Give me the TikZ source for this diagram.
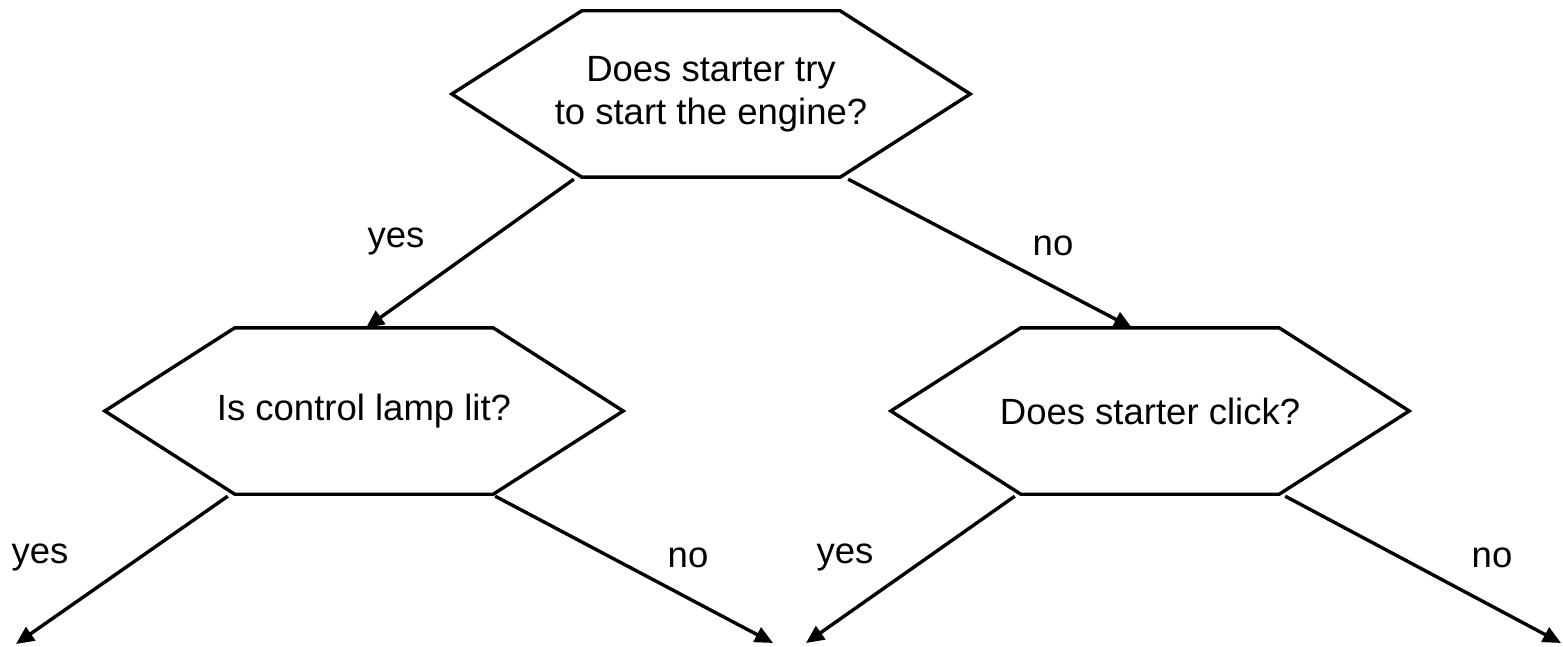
\documentclass[tikz,border=0pt]{standalone}
\usepackage{fontspec}
\setmainfont{Liberation Sans}
\usetikzlibrary{arrows.meta,calc}
\tikzset{
  hexnode/.style={draw=none, minimum width=518pt, minimum height=166pt, inner sep=0pt, align=center, font=\fontsize{36.5}{43.5}\selectfont},
  hexline/.style={draw=black, line width=3.4pt, line join=miter},
  conn/.style={draw=black, line width=3.4pt, -{Triangle[length=18pt,width=16pt]}},
  lbl/.style={inner sep=0pt, font=\fontsize{36.5}{43.5}\selectfont}
}
\begin{document}
\begin{tikzpicture}[x=1pt,y=-1pt]
\useasboundingbox[fill=white] (0,0) rectangle (1563,647);
\node[hexnode] (A) at (711,94) {Does starter try\\to start the engine?};
\node[hexnode] (B) at (364,411) {Is control lamp lit?};
\node[hexnode] (C) at (1150,411) {Does starter click?};
\foreach \n in {A,B,C}{
  \draw[hexline] (\n.west) -- ($(\n.north west)+(130,0)$) -- ($(\n.north east)+(-130,0)$) -- (\n.east) -- ($(\n.south east)+(-130,0)$) -- ($(\n.south west)+(130,0)$) -- cycle;
}
\coordinate (o1) at (16,644);
\coordinate (o2) at (773,643);
\coordinate (o3) at (806,643);
\coordinate (o4) at (1561,643);
\draw[conn] ($(A.south west)+(122,2)$) -- ($(B.north)+(2,0)$);
\draw[conn] ($(A.south east)+(-122,2)$) -- ($(C.north)+(-18,0)$);
\draw[conn] ($(B.south west)+(123,2)$) -- (o1);
\draw[conn] ($(B.south east)+(-128,2)$) -- (o2);
\draw[conn] ($(C.south west)+(124,2)$) -- (o3);
\draw[conn] ($(C.south east)+(-124,2)$) -- (o4);
\node[lbl] (l1) at (396,241) {yes};
\node[lbl] (l2) at (1053,246) {no};
\node[lbl] (l3) at (40,557) {yes};
\node[lbl] (l4) at (688,558) {no};
\node[lbl] (l5) at (845,557) {yes};
\node[lbl] (l6) at (1492,558) {no};
\end{tikzpicture}
\end{document}
